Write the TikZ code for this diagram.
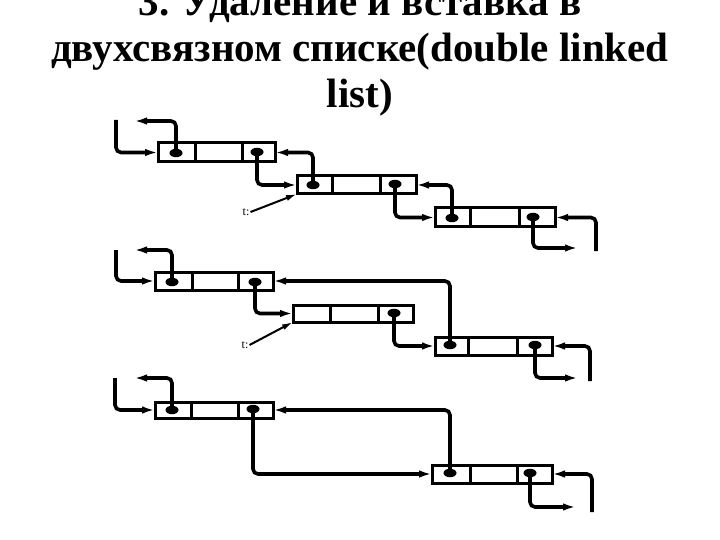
\documentclass[tikz,border=0pt]{standalone}
\usepackage{fontspec}
\setmainfont{Liberation Serif}
\usetikzlibrary{arrows.meta,shapes.geometric}
\newcommand\lnode[7]{%
  \node[cellbox, minimum width={#3-#2}, minimum height={#7-#6}] (#1l) at ({(#2+#3)/2},{(#6+#7)/2}) {};
  \node[cellbox, minimum width={#4-#3}, minimum height={#7-#6}] (#1m) at ({(#3+#4)/2},{(#6+#7)/2}) {};
  \node[cellbox, minimum width={#5-#4}, minimum height={#7-#6}] (#1r) at ({(#4+#5)/2},{(#6+#7)/2}) {};
}
\begin{document}
\begin{tikzpicture}[x=1pt,y=-1pt,
  cellbox/.style={draw,line width=3pt,inner sep=0pt,outer sep=0pt},
  dot/.style={ellipse,fill=black,inner sep=0pt,minimum width=13pt,minimum height=8.5pt},
  link/.style={line width=3.6pt,rounded corners=5pt,-{Latex[length=13pt,width=7.5pt]}},
  tlink/.style={line width=2pt,-{Latex[length=11pt,width=6pt]}},
  tlabel/.style={font=\fontsize{12}{13}\selectfont,inner sep=1pt},
  title/.style={font=\fontsize{41}{44}\selectfont\bfseries,inner sep=0pt}]
\useasboundingbox (0,0) rectangle (720,540);
% title
\node[title,anchor=base] (h1) at (360,16) {3. Удаление и вставка в};
\node[title,anchor=base] (h2) at (360,62) {двухсвязном списке(double linked};
\node[title,anchor=base] (h3) at (360,108) {list)};

% ===== diagram 1 =====
\lnode{a1}{158}{195}{242}{275}{143}{162}
\lnode{b1}{297}{332}{380}{416}{176}{194}
\lnode{c1}{435}{470}{519}{555}{208}{227}
\node[dot] (a1p) at (176,153) {};
\node[dot] (a1n) at (257,152) {};
\node[dot] (b1p) at (313,185) {};
\node[dot] (b1n) at (395,184) {};
\node[dot] (c1p) at (452,218) {};
\node[dot] (c1n) at (533,217) {};
\coordinate (a1in) at (116,120);
\coordinate (a1out) at (134,121);
\coordinate (c1out) at (578,248);
\coordinate (c1in) at (596,251);
\draw[link] (a1in) |- (a1l.west);
\draw[link] (a1p.center) |- (a1out);
\draw[link] (a1n.center) |- (b1l.west);
\draw[link] (b1p.center) |- (a1r.east);
\draw[link] (b1n.center) |- (c1l.west);
\draw[link] (c1p.center) |- (b1r.east);
\draw[link] (c1n.center) |- (c1out);
\draw[link] (c1in) |- (c1r.east);
\node[tlabel] (t1) at (246,212) {t:};
\draw[tlink] (t1.east) -- (b1l.south west);

% ===== diagram 2 =====
\lnode{a2}{155}{192}{238}{273}{272}{290}
\lnode{b2}{293}{330}{378}{413}{305}{322}
\lnode{c2}{435}{468}{517}{552}{337}{355}
\node[dot] (a2p) at (172,282) {};
\node[dot] (a2n) at (255,282) {};
\node[dot] (b2n) at (394,313) {};
\node[dot] (c2p) at (450,345) {};
\node[dot] (c2n) at (535,345) {};
\coordinate (a2in) at (116,250);
\coordinate (a2out) at (134,250);
\coordinate (c2out) at (578,378);
\coordinate (c2in) at (590,381);
\draw[link] (a2in) |- (a2l.west);
\draw[link] (a2p.center) |- (a2out);
\draw[link] (a2n.center) |- (b2l.west);
\draw[link] (c2p.center) |- (a2r.east);
\draw[link] (b2n.center) |- (c2l.west);
\draw[link] (c2n.center) |- (c2out);
\draw[link] (c2in) |- (c2r.east);
\node[tlabel] (t2) at (245,345) {t:};
\draw[tlink] (t2.east) -- (b2l.south west);

% ===== diagram 3 =====
\lnode{a3}{155}{191}{238}{273}{402}{418}
\lnode{c3}{432}{470}{517}{552}{465}{483}
\node[dot] (a3p) at (172,410) {};
\node[dot] (a3n) at (253,409) {};
\node[dot] (c3p) at (450,473) {};
\node[dot] (c3n) at (530,473) {};
\coordinate (a3in) at (115,378);
\coordinate (a3out) at (134,378);
\coordinate (c3out) at (576,507);
\coordinate (c3in) at (592,512);
\draw[link] (a3in) |- (a3l.west);
\draw[link] (a3p.center) |- (a3out);
\draw[link] (a3n.center) |- (c3l.west);
\draw[link] (c3p.center) |- (a3r.east);
\draw[link] (c3n.center) |- (c3out);
\draw[link] (c3in) |- (c3r.east);
\end{tikzpicture}
\end{document}
